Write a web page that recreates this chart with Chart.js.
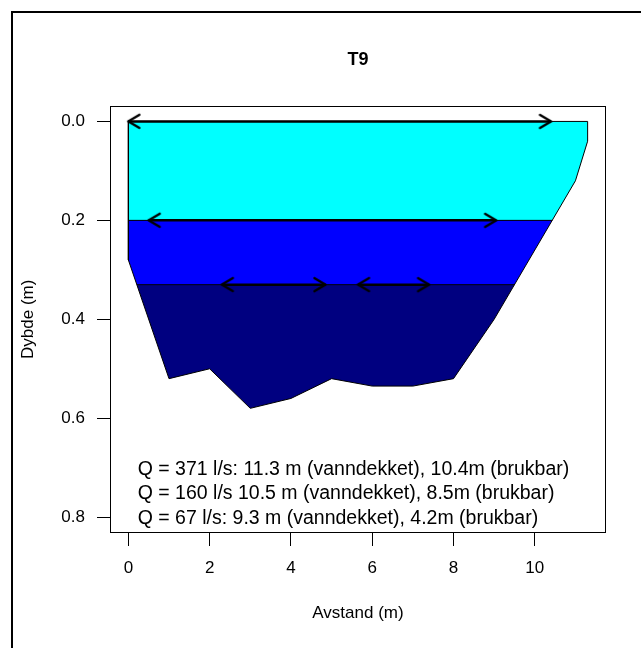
<!DOCTYPE html>
<html>
<head>
<meta charset="utf-8">
<script src="https://cdn.jsdelivr.net/npm/chart.js@4.4.1/dist/chart.umd.min.js"></script>
<style>
  html, body { margin: 0; padding: 0; background: #fff; }
  canvas { display: block; }
</style>
</head>
<body>
<canvas id="c" width="641" height="648"></canvas>
<script>
// Transect T9: cross-section profile, distance from bank (m) and depth (m).
// The last point returns to the start so the outline closes along the surface.
const profileX     = [0, 0,    1,    2,    3,    4,    5,    6,     7,     8,    9,    10,   11,   11.3, 11.3, 0];
const profileDepth = [0, 0.28, 0.52, 0.50, 0.58, 0.56, 0.52, 0.535, 0.535, 0.52, 0.40, 0.26, 0.12, 0.04, 0,    0];

// Water surface for each discharge (depth below the highest level) and its fill colour
const levelDepth  = [0, 0.2, 0.33];
const levelColors = ['#00FFFF', '#0000FF', '#000080'];

// Where the two lower water surfaces meet the banks
const waterlineDepth = [0.2, 0.33];
const waterlineFromX = [0, 0.21];
const waterlineToX   = [10.43, 9.5];

// Usable-width arrows: start, end and depth of each
const arrowFromX = [0, 0.5, 2.3, 5.65];
const arrowToX   = [10.4, 9.05, 4.85, 7.4];
const arrowDepth = [0, 0.2, 0.33, 0.33];

const xTicks = [0, 2, 4, 6, 8, 10];
const yTicks = [0, 0.2, 0.4, 0.6, 0.8];

const notes = [
  'Q = 371 l/s: 11.3 m (vanndekket), 10.4m (brukbar)',
  'Q = 160 l/s 10.5 m (vanndekket), 8.5m (brukbar)',
  'Q = 67 l/s: 9.3 m (vanndekket), 4.2m (brukbar)'
];
const noteX = 0.23;
const noteDepth = [0.703, 0.752, 0.802];

const FONT = "'Liberation Sans', Arial, Helvetica, sans-serif";
Chart.defaults.font.family = FONT;
Chart.defaults.color = '#000';

// Open arrow head ( > ), tip at the centre of the canvas, pointing right
function makeArrowHead(len, half, lw) {
  const size = Math.ceil(2 * (len + lw)) + 2;
  const c = document.createElement('canvas');
  c.width = size; c.height = size;
  const g = c.getContext('2d');
  const cx = size / 2, cy = size / 2;
  g.strokeStyle = '#000';
  g.lineWidth = lw;
  g.lineCap = 'round';
  g.lineJoin = 'round';
  g.beginPath();
  g.moveTo(cx - len, cy - half);
  g.lineTo(cx, cy);
  g.lineTo(cx - len, cy + half);
  g.stroke();
  return c;
}
const arrowHead = makeArrowHead(11, 6.5, 2.5);

// Vertical colour bands: one band per water level, hard edges between them
function layeredFill(context) {
  const chart = context.chart;
  const area = chart.chartArea;
  if (!area) return levelColors[0];
  const ys = chart.scales.y;
  const top = ys.getPixelForValue(levelDepth[0]);
  const bottom = area.bottom;
  const span = bottom - top;
  const g = chart.ctx.createLinearGradient(0, top, 0, bottom);
  for (let i = 0; i < levelDepth.length; i++) {
    const a = (ys.getPixelForValue(levelDepth[i]) - top) / span;
    const b = i + 1 < levelDepth.length ? (ys.getPixelForValue(levelDepth[i + 1]) - top) / span : 1;
    g.addColorStop(Math.max(0, a), levelColors[i]);
    g.addColorStop(Math.min(1, b), levelColors[i]);
  }
  return g;
}

const datasets = [];

datasets.push({
  label: 'profil',
  data: profileX.map((x, i) => ({ x: x, y: profileDepth[i] })),
  borderColor: '#000',
  borderWidth: 1,
  backgroundColor: layeredFill,
  fill: 'shape',
  pointRadius: 0,
  tension: 0,
  order: 10
});

waterlineDepth.forEach((d, i) => {
  datasets.push({
    label: 'vannlinje ' + d,
    data: [{ x: waterlineFromX[i], y: d }, { x: waterlineToX[i], y: d }],
    borderColor: '#000',
    borderWidth: 1,
    pointRadius: 0,
    fill: false,
    order: 5
  });
});

arrowDepth.forEach((d, i) => {
  datasets.push({
    label: 'brukbar ' + i,
    data: [{ x: arrowFromX[i], y: d }, { x: arrowToX[i], y: d }],
    borderColor: '#000',
    borderWidth: 2.5,
    pointStyle: arrowHead,
    pointRotation: [180, 0],
    pointRadius: 8,
    pointHoverRadius: 8,
    fill: false,
    order: 0
  });
});

const pageFrame = {
  id: 'pageFrame',
  beforeDraw(chart) {
    const ctx = chart.ctx;
    ctx.save();
    ctx.fillStyle = '#fff';
    ctx.fillRect(0, 0, chart.width, chart.height);
    ctx.restore();
  },
  afterDraw(chart) {
    const ctx = chart.ctx;
    const a = chart.chartArea;
    ctx.save();
    ctx.strokeStyle = '#000';
    ctx.lineWidth = 1;
    ctx.strokeRect(Math.round(a.left) + 0.5, Math.round(a.top) + 0.5,
                   Math.round(a.right - a.left) - 1, Math.round(a.bottom - a.top) - 1);
    ctx.lineWidth = 2;
    ctx.strokeRect(12, 12, chart.width + 100, chart.height + 100);
    ctx.restore();
  }
};

const noteText = {
  id: 'noteText',
  afterDatasetsDraw(chart) {
    const ctx = chart.ctx;
    const xs = chart.scales.x, ys = chart.scales.y;
    ctx.save();
    ctx.fillStyle = '#000';
    ctx.font = '19.5px ' + FONT;
    ctx.textAlign = 'left';
    ctx.textBaseline = 'middle';
    notes.forEach((t, i) => {
      ctx.fillText(t, xs.getPixelForValue(noteX), ys.getPixelForValue(noteDepth[i]));
    });
    ctx.restore();
  }
};

new Chart(document.getElementById('c'), {
  type: 'line',
  data: { datasets: datasets },
  options: {
    responsive: false,
    animation: false,
    layout: { padding: { left: 0, top: 0, right: 35, bottom: 0 } },
    plugins: {
      legend: { display: false },
      tooltip: { enabled: false },
      title: {
        display: true,
        text: 'T9',
        fullSize: false,
        color: '#000',
        font: { size: 18, weight: 'bold', family: FONT },
        padding: { top: 49, bottom: 35 }
      }
    },
    scales: {
      x: {
        type: 'linear',
        min: -0.452,
        max: 11.752,
        afterBuildTicks: s => { s.ticks = xTicks.map(v => ({ value: v })); },
        afterFit: s => { s.height = 115; },
        grid: { display: true, drawOnChartArea: false, drawTicks: true, tickLength: 13, color: '#000', tickColor: '#000' },
        border: { display: false },
        ticks: {
          color: '#000', font: { size: 17, family: FONT }, padding: 12,
          maxRotation: 0, autoSkip: false,
          callback: v => String(v)
        },
        title: {
          display: true, text: 'Avstand (m)', color: '#000',
          font: { size: 17, family: FONT }, padding: { top: 0, bottom: 24 }
        }
      },
      y: {
        type: 'linear',
        reverse: true,
        min: -0.032,
        max: 0.832,
        afterBuildTicks: s => { s.ticks = yTicks.map(v => ({ value: v })); },
        afterFit: s => { s.width = 110; },
        grid: { display: true, drawOnChartArea: false, drawTicks: true, tickLength: 13, color: '#000', tickColor: '#000' },
        border: { display: false },
        ticks: {
          color: '#000', font: { size: 17, family: FONT }, padding: 12,
          autoSkip: false,
          callback: v => Number(v).toFixed(1)
        },
        title: {
          display: true, text: 'Dybde (m)', color: '#000',
          font: { size: 17, family: FONT }, padding: { top: 18, bottom: 0 }
        }
      }
    }
  },
  plugins: [pageFrame, noteText]
});
</script>
</body>
</html>
